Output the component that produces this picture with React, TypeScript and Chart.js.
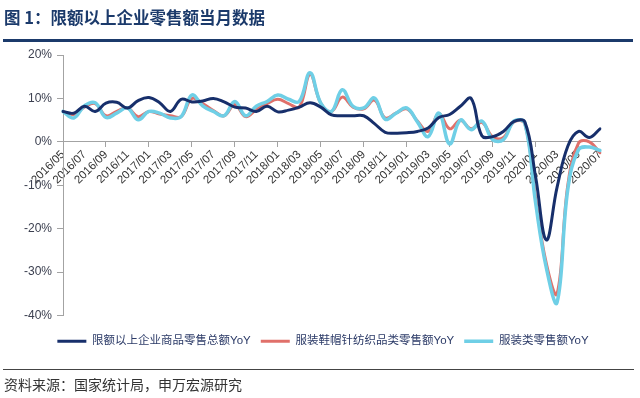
import React, { useEffect, useRef } from 'react';
import { Chart, registerables } from 'chart.js';

Chart.register(...registerables);

// ---- data ----
const months = [
  '2016/05', '2016/06', '2016/07', '2016/08', '2016/09', '2016/10', '2016/11', '2016/12',
  '2017/01', '2017/02', '2017/03', '2017/04', '2017/05', '2017/06', '2017/07', '2017/08',
  '2017/09', '2017/10', '2017/11', '2017/12', '2018/01', '2018/02', '2018/03', '2018/04',
  '2018/05', '2018/06', '2018/07', '2018/08', '2018/09', '2018/10', '2018/11', '2018/12',
  '2019/01', '2019/02', '2019/03', '2019/04', '2019/05', '2019/06', '2019/07', '2019/08',
  '2019/09', '2019/10', '2019/11', '2019/12', '2020/01', '2020/02', '2020/03', '2020/04',
  '2020/05', '2020/06', '2020/07',
];

const seriesNames = [
  '限额以上企业商品零售总额YoY',
  '服装鞋帽针纺织品类零售额YoY',
  '服装类零售额YoY',
];

const totalYoY = [
  7.0, 6.6, 8.2, 7.0, 8.9, 9.1, 7.8, 9.5,
  10.2, 9.0, 7.0, 9.8, 9.2, 9.4, 10.0, 9.2,
  8.0, 7.8, 7.0, 8.2, 6.9, 7.3, 8.0, 9.0,
  8.0, 6.2, 6.0, 6.0, 6.0, 4.2, 2.2, 2.0,
  2.1, 2.4, 3.2, 5.6, 6.3, 8.2, 10.0, 1.4,
  1.2, 2.4, 4.7, 4.6, -8.0, -22.6, -10.5, -1.0,
  2.4, 1.0, 3.0,
];

const apparelTextileYoY = [
  7.0, 6.3, 8.0, 8.8, 6.0, 7.0, 7.8, 5.8,
  7.0, 6.4, 6.0, 5.8, 10.0, 8.8, 7.2, 6.0,
  8.6, 5.8, 7.4, 8.8, 9.8, 8.8, 8.0, 15.5,
  8.9, 7.0, 10.3, 8.0, 7.6, 9.6, 5.5, 6.6,
  7.6, 4.8, 2.4, 6.5, 3.0, 5.0, 3.0, 4.5,
  1.2, 1.0, 4.6, 4.2, -13.0, -28.0, -35.0, -10.0,
  -0.3, 0.0, -2.5,
];

const clothingYoY = [
  7.0, 5.5, 8.3, 9.0, 5.6, 6.6, 7.8, 5.1,
  7.0, 6.6, 5.5, 5.8, 10.8, 8.3, 7.0, 6.0,
  9.3, 6.0, 8.2, 9.3, 10.8, 9.8, 9.3, 15.9,
  8.9, 7.0, 12.0, 8.2, 7.8, 10.1, 5.2, 6.6,
  7.8, 4.6, 1.2, 6.6, -0.5, 5.0, 2.8, 4.8,
  0.5, 0.5, 4.8, 4.3, -14.0, -29.0, -37.0, -11.0,
  -1.8, -1.2, -2.0,
];

const yMin = -40;
const yMax = 20;
const yStep = 10;

// ---- styles ----
const NAVY = '#172f6b';
const RED = '#e0706a';
const LIGHTBLUE = '#6fcfe6';
const AXIS = '#a3a3a3';
const LATIN = '"Liberation Sans", Arial, "Noto Sans CJK SC", sans-serif';
const CJK = '"Noto Sans CJK SC", "Liberation Sans", sans-serif';

// shift the legend so that it sits where the reference puts it
const legendShift = {
  id: 'legendShift',
  afterLayout(chart: any) {
    const l = chart.legend;
    if (l) {
      l.left += 19;
      l.right += 19;
    }
  },
};

export default function App() {
  const canvasRef = useRef<HTMLCanvasElement | null>(null);

  useEffect(() => {
    const canvas = canvasRef.current;
    if (!canvas) return;
    const chart = new Chart(canvas, {
      type: 'line',
      data: {
        labels: months,
        datasets: [
          {
            label: seriesNames[0],
            data: totalYoY,
            borderColor: NAVY,
            backgroundColor: NAVY,
            borderWidth: 3,
            order: 0,
            xAxisID: 'x',
            yAxisID: 'y',
          },
          {
            label: seriesNames[1],
            data: apparelTextileYoY,
            borderColor: RED,
            backgroundColor: RED,
            borderWidth: 3,
            order: 2,
            xAxisID: 'x',
            yAxisID: 'y',
          },
          {
            label: seriesNames[2],
            data: clothingYoY,
            borderColor: LIGHTBLUE,
            backgroundColor: LIGHTBLUE,
            borderWidth: 3.5,
            order: 1,
            xAxisID: 'x',
            yAxisID: 'y',
          },
        ],
      },
      plugins: [legendShift],
      options: {
        animation: false,
        responsive: false,
        devicePixelRatio: 1,
        layout: { padding: { left: 8, right: 40, top: 55, bottom: 41 } },
        elements: {
          point: { radius: 0, hoverRadius: 0 },
          line: { tension: 0.4, borderCapStyle: 'round', borderJoinStyle: 'round' },
        },
        plugins: {
          tooltip: { enabled: false },
          legend: {
            position: 'bottom',
            labels: {
              usePointStyle: true,
              pointStyle: 'line',
              pointStyleWidth: 29,
              padding: 10,
              color: '#2b3a67',
              font: { size: 11.5, family: LATIN },
              sort: (a: any, b: any) => a.datasetIndex - b.datasetIndex,
            },
          },
        },
        scales: {
          x: {
            type: 'category',
            position: { y: 0 } as any,
            offset: false,
            grid: {
              display: true,
              drawOnChartArea: false,
              drawTicks: true,
              tickLength: 5,
              tickColor: (ctx: any) => (ctx.index % 2 === 0 ? AXIS : 'rgba(0,0,0,0)'),
              color: AXIS,
            },
            border: { display: true, color: AXIS, width: 1 },
            ticks: {
              autoSkip: false,
              maxRotation: 45,
              minRotation: 45,
              padding: 1,
              color: '#333333',
              font: { size: 11.5, family: LATIN },
              callback: (_v: any, i: number) => (i % 2 === 0 ? months[i] : null),
            },
          },
          y: {
            type: 'linear',
            position: 'left',
            min: yMin,
            max: yMax,
            ticks: {
              stepSize: yStep,
              padding: 5,
              color: '#3c4050',
              font: { size: 12, family: LATIN },
              callback: (v: any) => `${v}%`,
            },
            grid: { drawOnChartArea: false, tickLength: 6, color: AXIS },
            border: { display: true, color: AXIS, width: 1 },
            afterFit: (s: any) => {
              s.width = 55;
            },
          },
          pad: {
            type: 'linear',
            axis: 'x',
            position: 'bottom',
            display: true,
            grid: { display: false },
            border: { display: false },
            ticks: { display: false },
            afterFit: (s: any) => {
              s.height = 10;
            },
          } as any,
        },
      } as any,
    });
    return () => chart.destroy();
  }, []);

  return (
    <div
      style={{
        position: 'absolute',
        left: 0,
        top: 0,
        width: 640,
        height: 398,
        background: '#ffffff',
        overflow: 'hidden',
      }}
    >
      <canvas
        ref={canvasRef}
        width={640}
        height={398}
        style={{ position: 'absolute', left: 0, top: 0, width: 640, height: 398 }}
      />
      <div
        style={{
          position: 'absolute',
          left: 4,
          top: 7,
          fontFamily: CJK,
          fontWeight: 700,
          fontSize: 16.5,
          lineHeight: '20px',
          color: '#1b3a6b',
          whiteSpace: 'nowrap',
        }}
      >
        图 1：限额以上企业零售额当月数据
      </div>
      <div
        style={{ position: 'absolute', left: 3, top: 39, width: 630, height: 3, background: '#1b3a6b' }}
      />
      <div
        style={{ position: 'absolute', left: 3, top: 369, width: 631, height: 1, background: '#444444' }}
      />
      <div
        style={{
          position: 'absolute',
          left: 4,
          top: 375,
          fontFamily: CJK,
          fontSize: 14,
          lineHeight: '18px',
          color: '#333333',
          whiteSpace: 'nowrap',
        }}
      >
        资料来源：国家统计局，申万宏源研究
      </div>
    </div>
  );
}
